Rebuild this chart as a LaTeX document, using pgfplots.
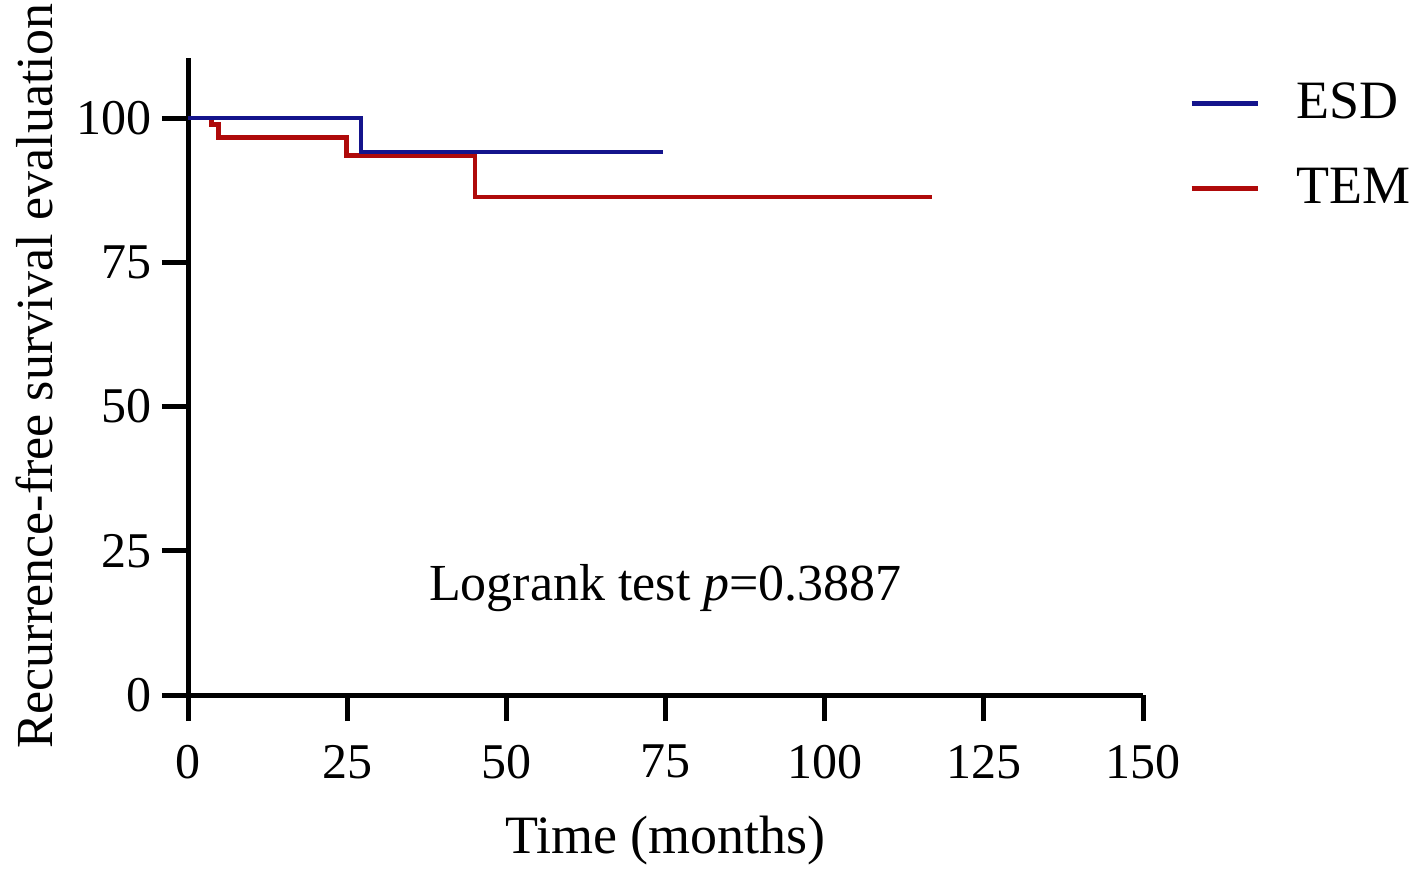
\documentclass[border=0pt]{standalone}
\usepackage{pgfplots}
\pgfplotsset{compat=1.18}
\usepackage{fontspec}
\setmainfont{Liberation Serif}
\definecolor{esd}{RGB}{20,20,140}
\definecolor{tem}{RGB}{175,10,10}
\begin{document}
\begin{tikzpicture}
\path[use as bounding box] (-47pt,-46.75pt) rectangle (305.25pt,159.25pt+14.5pt);
\begin{axis}[
  scale only axis,
  width=238.75pt, height=159.25pt,
  at={(0,0)}, anchor=origin,
  xmin=0, xmax=150, ymin=0, ymax=110.4,
  axis x line*=bottom, axis y line*=left,
  axis line style={line width=1.25pt, -},
  xtick={0,25,...,150}, ytick={0,25,...,100},
  tick style={line width=1.25pt, black},
  tick align=outside, major tick length=6.5pt,
  font=\fontsize{13}{15}\selectfont,
  ticklabel style={font=\fontsize{12.5}{15}\selectfont},
  xticklabel style={yshift=-2.5pt},
  yticklabel style={xshift=1pt},
  /pgf/number format/assume math mode=true,
  xlabel={Time (months)}, ylabel={Recurrence-free survival evaluation},
  xlabel style={font=\fontsize{13.5}{15}\selectfont, yshift=-2.5pt},
  ylabel style={font=\fontsize{13}{15}\selectfont, yshift=-1pt},
  clip=false,
  legend style={draw=none, at={(1.035,0.988)}, anchor=north west, font=\fontsize{13.5}{15}\selectfont, row sep=7pt, fill=none},
  legend cell align=left,
  legend image code/.code={\draw[line width=1.2pt,#1] (0pt,0pt) -- (16.5pt,0pt);},
]
\addlegendimage{esd}
\addlegendentry{\hspace{7pt}ESD}
\addlegendimage{tem}
\addlegendentry{\hspace{7pt}TEM}
\addplot[tem, line width=1.1pt, const plot, forget plot] coordinates {(0,100) (3.7,98.9) (4.8,96.6) (24.9,93.5) (45.1,86.3) (116.9,86.3)};
\addplot[esd, line width=1.1pt, const plot, forget plot] coordinates {(0,100) (27.2,94.1) (74.6,94.1)};
\node at (axis cs:75,18.6) {Logrank test \textit{p}=0.3887};
\end{axis}
\end{tikzpicture}
\end{document}
